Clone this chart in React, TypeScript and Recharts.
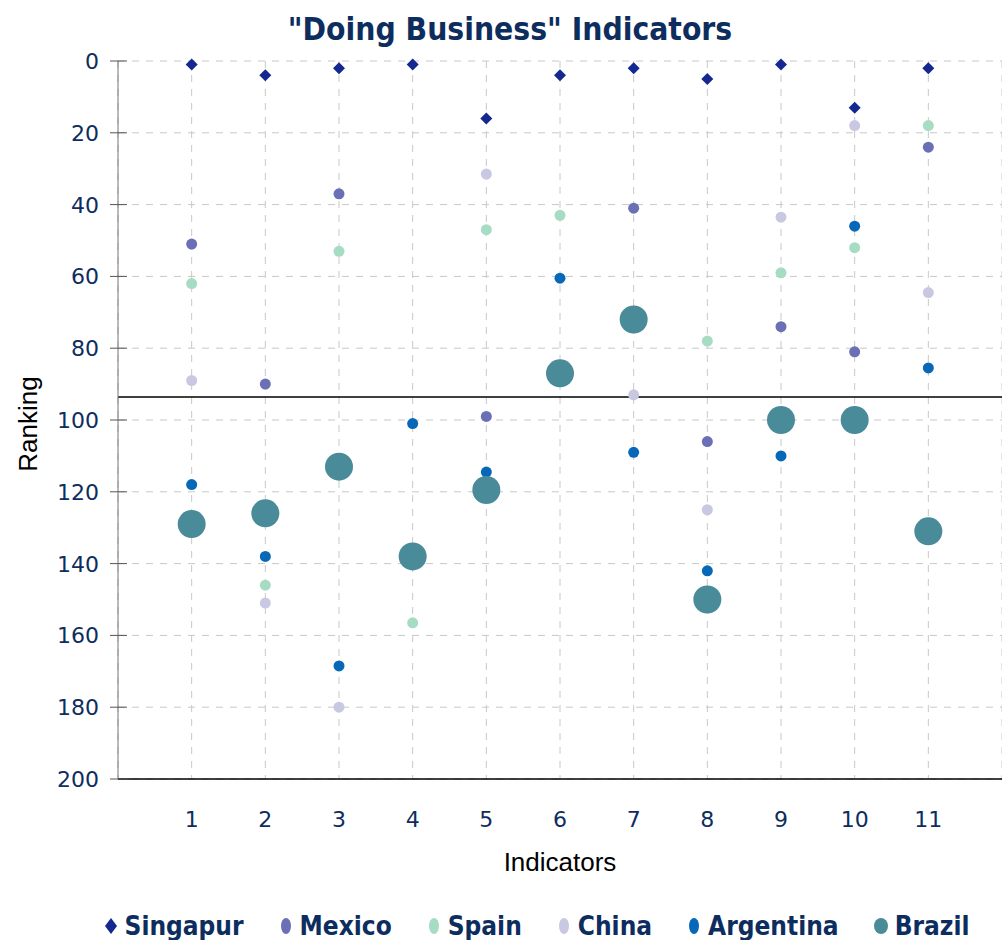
import React from "react";
import { ScatterChart, Scatter, XAxis, YAxis, CartesianGrid, ReferenceLine } from "recharts";

const indicators = [1, 2, 3, 4, 5, 6, 7, 8, 9, 10, 11];
const yTicks = [0, 20, 40, 60, 80, 100, 120, 140, 160, 180, 200];

const singapur = [1, 4, 2, 1, 16, 4, 2, 5, 1, 13, 2];
const mexico = [51, 90, 37, null, 99, null, 41, 106, 74, 81, 24];
const spain = [62, 146, 53, 156.5, 47, 43, null, 78, 59, 52, 18];
const china = [89, 151, 180, null, 31.5, null, 93, 125, 43.5, 18, 64.5];
const argentina = [118, 138, 168.5, 101, 114.5, 60.5, 109, 142, 110, 46, 85.5];
const brazil = [129, 126, 113, 138, 119.5, 87, 72, 150, 100, 100, 131];
const averageLine = 93.6;

const series = [
  { name: "Singapur", values: singapur, color: "#14288f", kind: "diamond", r: 6 },
  { name: "Mexico", values: mexico, color: "#6b6fb5", kind: "circle", r: 5.5 },
  { name: "Spain", values: spain, color: "#a6dcc4", kind: "circle", r: 5.5 },
  { name: "China", values: china, color: "#c9c8e3", kind: "circle", r: 5.5 },
  { name: "Argentina", values: argentina, color: "#0868b8", kind: "circle", r: 5.5 },
  { name: "Brazil", values: brazil, color: "#4a8b9a", kind: "circle", r: 14 },
];

const toPoints = (values: (number | null)[]) =>
  indicators
    .map((x, i) => ({ x, y: values[i] }))
    .filter((p) => p.y !== null);

const navy = "#0d2d5e";

const makeShape = (kind: string, color: string, r: number) => (props: any) => {
  const { cx, cy } = props;
  if (kind === "diamond") {
    return (
      <polygon
        points={`${cx},${cy - r} ${cx + r},${cy} ${cx},${cy + r} ${cx - r},${cy}`}
        fill={color}
      />
    );
  }
  return <circle cx={cx} cy={cy} r={r} fill={color} />;
};

const YTick = (props: any) => {
  const { y, payload } = props;
  return (
    <g>
      <line x1={110} x2={127} y1={y} y2={y} stroke="#555" />
      <text x={99} y={y} dy={8} textAnchor="end" fill={navy} fontSize={22} fontFamily="DejaVu Sans">
        {payload.value}
      </text>
    </g>
  );
};

const XTick = (props: any) => {
  const { x, y, payload } = props;
  return (
    <text x={x} y={y} dy={40} textAnchor="middle" fill={navy} fontSize={22} fontFamily="DejaVu Sans">
      {payload.value}
    </text>
  );
};

const RankingLabel = (props: any) => {
  const { viewBox } = props;
  const cy = viewBox.y + viewBox.height / 2 + 4;
  return (
    <text
      x={28}
      y={cy}
      transform={`rotate(-90, 28, ${cy})`}
      textAnchor="middle"
      dominantBaseline="central"
      fill="#000"
      fontSize={26}
      fontFamily="Liberation Sans"
    >
      Ranking
    </text>
  );
};

const ChartLegend = () => (
  <div
    style={{
      position: "absolute",
      top: 909,
      left: 0,
      width: 1002,
      display: "flex",
      justifyContent: "center",
      gap: 34,
      fontFamily: "DejaVu Sans Condensed, DejaVu Sans",
      fontWeight: "bold",
      fontSize: 26,
      lineHeight: "34px",
      color: navy,
      paddingLeft: 70,
      boxSizing: "border-box",
    }}
  >
    {series.map((s) => (
      <div key={s.name} style={{ display: "flex", alignItems: "center" }}>
        <svg width={16} height={18} style={{ marginRight: 6 }}>
          {s.kind === "diamond" ? (
            <polygon points="8,1 14,9 8,17 2,9" fill={s.color} />
          ) : (
            <ellipse cx={8} cy={9} rx={s.name === "Brazil" ? 7 : 5} ry={8} fill={s.color} />
          )}
        </svg>
        <span>{s.name}</span>
      </div>
    ))}
  </div>
);

export default function App() {
  return (
    <div style={{ position: "absolute", left: 0, top: 0, width: 1002, height: 940, background: "#fff" }}>
      <div
        style={{
          position: "absolute",
          top: 9,
          left: 0,
          width: 1020,
          textAlign: "center",
          fontFamily: "DejaVu Sans Condensed, DejaVu Sans",
          fontWeight: "bold",
          fontSize: 31.5,
          lineHeight: "40px",
          color: navy,
        }}
      >
        "Doing Business" Indicators
      </div>
      <ScatterChart width={1002} height={940} margin={{ top: 61, right: 0, left: 0, bottom: 0 }}>
        <CartesianGrid stroke="#c8c8c8" strokeDasharray="7 7" horizontal vertical />
        <XAxis
          type="number"
          dataKey="x"
          domain={[0, 12]}
          ticks={indicators}
          tickLine={false}
          axisLine={{ stroke: "#000", strokeWidth: 1.5 }}
          height={161}
          tick={<XTick />}
          interval={0}
          label={{
            value: "Indicators",
            position: "insideTop",
            offset: 74,
            fill: "#000",
            fontSize: 26,
            fontFamily: "Liberation Sans",
          }}
        />
        <YAxis
          type="number"
          dataKey="y"
          domain={[0, 200]}
          reversed
          ticks={yTicks}
          width={118}
          tickLine={false}
          axisLine={{ stroke: "#777" }}
          tick={<YTick />}
          interval={0}
          label={<RankingLabel />}
        />
        <ReferenceLine y={averageLine} stroke="#000" strokeWidth={1.5} />
        {series.map((s) => (
          <Scatter
            key={s.name}
            name={s.name}
            data={toPoints(s.values)}
            fill={s.color}
            shape={makeShape(s.kind, s.color, s.r)}
            isAnimationActive={false}
          />
        ))}
      </ScatterChart>
      <ChartLegend />
    </div>
  );
}
